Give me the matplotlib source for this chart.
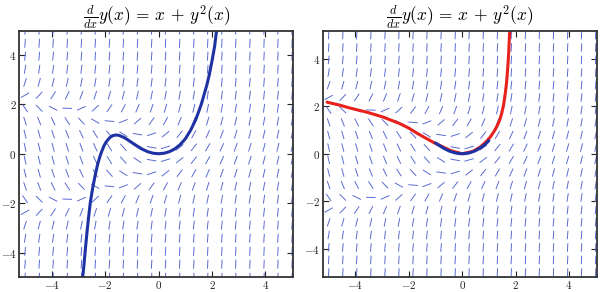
import numpy as np
import matplotlib
matplotlib.use("Agg")
import matplotlib.pyplot as plt
from matplotlib.collections import LineCollection

plt.rcParams["mathtext.fontset"] = "cm"
plt.rcParams["font.family"] = "serif"
plt.rcParams["font.serif"] = ["cmr10", "DejaVu Serif"]
plt.rcParams["axes.formatter.use_mathtext"] = True

# =========================
# Data
# =========================

# slope-field grid (20 columns x 20 rows between -5 and 5)
grid_x = [-5.0, -4.47, -3.95, -3.42, -2.89, -2.37, -1.84, -1.32, -0.79, -0.26,
          0.26, 0.79, 1.32, 1.84, 2.37, 2.89, 3.42, 3.95, 4.47, 5.0]
grid_y = list(grid_x)

# left panel: series solution
left_x = [-2.84, -2.80, -2.74, -2.68, -2.62, -2.56, -2.47, -2.37, -2.28, -2.20,
          -2.12, -2.04, -1.96, -1.88, -1.80, -1.72, -1.64, -1.56, -1.45, -1.30,
          -1.15, -1.00, -0.80, -0.60, -0.40, -0.20, 0.00, 0.20, 0.40, 0.60,
          0.80, 1.00, 1.20, 1.40, 1.60, 1.80, 1.90, 2.00, 2.10, 2.17]
left_y = [-4.97, -4.57, -3.84, -3.17, -2.56, -2.00, -1.40, -0.85, -0.42, -0.12,
          0.12, 0.33, 0.48, 0.59, 0.68, 0.73, 0.75, 0.76, 0.73, 0.66,
          0.56, 0.45, 0.31, 0.18, 0.08, 0.02, 0.00, 0.02, 0.08, 0.19,
          0.36, 0.60, 0.95, 1.40, 2.00, 2.75, 3.20, 3.75, 4.35, 4.97]

# right panel: numerical solution (red) and series near 0 (blue)
red_x = [-5.06, -4.60, -4.19, -3.57, -2.95, -2.32, -2.00, -1.70, -1.40, -1.08,
         -0.71, -0.40, 0.00, 0.40, 0.70, 0.91, 1.05, 1.20, 1.30, 1.40,
         1.48, 1.55, 1.61, 1.66, 1.70, 1.74, 1.78]
red_y = [2.17, 2.05, 1.92, 1.75, 1.54, 1.26, 1.08, 0.87, 0.68, 0.48,
         0.28, 0.12, 0.00, 0.10, 0.30, 0.52, 0.70, 0.95, 1.15, 1.40,
         1.70, 2.05, 2.50, 2.97, 3.50, 4.20, 5.17]
ser_x = [-1.0, -0.9, -0.7, -0.5, -0.3, -0.15, 0.0, 0.15, 0.3, 0.5, 0.7, 0.85, 1.0]
ser_y = [0.45, 0.38, 0.24, 0.12, 0.045, 0.011, 0.0, 0.011, 0.045, 0.127, 0.26, 0.38, 0.55]

ticks = [-4, -2, 0, 2, 4]
title = r"$\frac{d}{dx}y(x) \,=\, x \,+\, y^2(x)$"

FIELD = "#5a6bd0"
BLUE = "#1f32a3"
RED = "#e8211c"
SEG_LEN = 0.36


def slope_field(ax):
    gx, gy = np.meshgrid(grid_x, grid_y)
    f = gx + gy ** 2  # right-hand side from the title
    norm = np.sqrt(1 + f ** 2)
    dx = 0.5 * SEG_LEN / norm
    dy = 0.5 * SEG_LEN * f / norm
    segs = np.stack([np.stack([gx - dx, gy - dy], -1),
                     np.stack([gx + dx, gy + dy], -1)], axis=-2).reshape(-1, 2, 2)
    ax.add_collection(LineCollection(segs, colors=FIELD, linewidths=0.7))


def style(ax, ylim):
    ax.set_xlim(-5.22, 5.05)
    ax.set_ylim(-ylim, ylim)
    ax.set_xticks(ticks)
    ax.set_yticks(ticks)
    ax.tick_params(direction="in", length=4, width=0.8, top=True, right=True,
                   labelsize=8, colors="#222222", pad=2)
    for s in ax.spines.values():
        s.set_linewidth(1.3)
        s.set_color("#333333")
    ax.set_title(title, fontsize=12.5, pad=7)


fig = plt.figure(figsize=(6.0, 2.92), dpi=100)
ax1 = fig.add_axes([0.032, 0.053, 0.457, 0.841])
ax2 = fig.add_axes([0.538, 0.053, 0.457, 0.841])

slope_field(ax1)
ax1.plot(left_x, left_y, color=BLUE, lw=2.2, solid_capstyle="round")
style(ax1, 4.97)

slope_field(ax2)
ax2.plot(red_x, red_y, color=RED, lw=2.2, solid_capstyle="round")
ax2.plot(ser_x, ser_y, color=BLUE, lw=2.2, solid_capstyle="round")
style(ax2, 5.17)

fig.savefig("out.png", dpi=100)
